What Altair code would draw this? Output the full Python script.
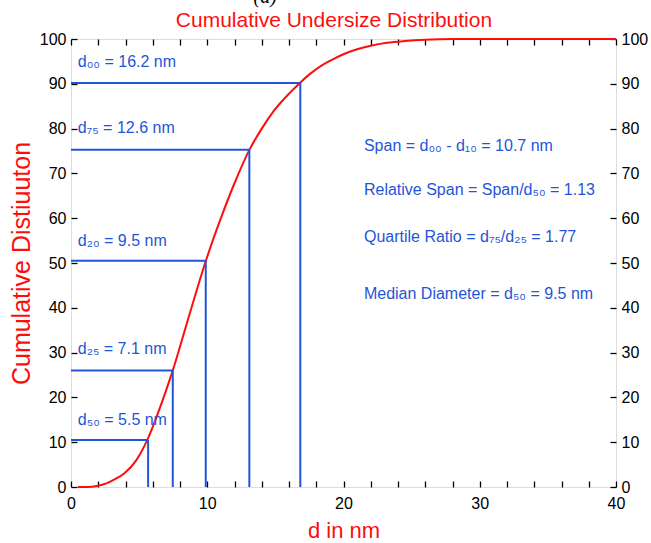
import altair as alt
import pandas as pd

# ---- data ----
curve_x = [0.5, 1.2, 2.0, 2.6, 3.2, 3.9, 4.8, 5.6, 6.2, 6.8, 7.5, 8.5, 9.9, 11.0,
           12.0, 13.1, 14.0, 14.9, 16.0, 16.8, 17.5, 18.3, 19.0, 20.0, 21.0, 22.0,
           23.2, 24.5, 26.0, 28.0, 40.0]
curve_y = [0.0, 0.0, 0.3, 0.8, 1.7, 3.0, 6.0, 10.5, 15.0, 20.0, 26.3, 36.5, 50.5, 60.0,
           67.8, 75.3, 80.0, 84.0, 87.8, 90.2, 92.1, 93.9, 95.1, 96.6, 97.7, 98.5,
           99.15, 99.55, 99.85, 100.0, 100.0]

quant_d = [5.66, 7.47, 9.89, 13.09, 16.83]
quant_p = [10.5, 26.0, 50.5, 75.3, 90.2]
quant_labels = ["d₅₀ = 5.5 nm", "d₂₅ = 7.1 nm", "d₂₀ = 9.5 nm", "d₇₅ = 12.6 nm", "d₀₀ = 16.2 nm"]
label_y = [14.9, 30.8, 54.9, 80.1, 94.9]
label_x = [0.5, 0.5, 0.5, 0.5, 0.5]

stats_text = ["Span = d₀₀ - d₁₀ = 10.7 nm",
              "Relative Span = Span/d₅₀ = 1.13",
              "Quartile Ratio = d₇₅/d₂₅ = 1.77",
              "Median Diameter = d₅₀ = 9.5 nm"]
stats_x = [21.5, 21.5, 21.5, 21.5]
stats_y = [76.1, 66.3, 55.8, 43.0]

title_text = ["Cumulative Undersize Distribution"]
title_x = [19.3]
title_y = [104.0]

panel_text = ["(a)"]
panel_x = [14.25]
panel_y = [108.0]

x_ticks = list(range(0, 41, 2))
y_ticks = list(range(0, 101, 10))

# ---- tables ----
curve_df = pd.DataFrame({"x": curve_x, "y": curve_y})
quant_df = pd.DataFrame({"d": quant_d, "p": quant_p, "zero": [0] * len(quant_d),
                         "label": quant_labels, "lx": label_x, "ly": label_y})
stats_df = pd.DataFrame({"text": stats_text, "x": stats_x, "y": stats_y})
title_df = pd.DataFrame({"t": title_text, "x": title_x, "y": title_y})
panel_df = pd.DataFrame({"t": panel_text, "x": panel_x, "y": panel_y})

FONT = "Liberation Sans"
RED = "#ff0d0d"
BLUE = "#1f55d6"

xs = alt.Scale(domain=[0, 40], nice=False, zero=False)
ys = alt.Scale(domain=[0, 100], nice=False, zero=False)

common = dict(domain=False, offset=-6, tickSize=6, tickColor="black", tickWidth=1.3,
              grid=False, labelFont=FONT, labelFontSize=16, labelColor="black",
              labelOverlap=False, labelFlush=False)

x_bottom = alt.Axis(orient="bottom", values=x_ticks,
                    labelExpr="datum.value % 10 == 0 ? datum.label : ''",
                    labelPadding=8, title="d in nm", titleColor=RED, titleFont=FONT,
                    titleFontSize=22, titleFontWeight="normal", titlePadding=9, **common)
y_left = alt.Axis(orient="left", values=y_ticks, labelPadding=5,
                  title="Cumulative Distiuuton", titleColor=RED, titleFont=FONT,
                  titleFontSize=25, titleFontWeight="normal", titlePadding=5, **common)
x_top = alt.Axis(orient="top", values=x_ticks, labels=False, title=None,
                 domain=False, offset=-6, tickSize=6, tickColor="black",
                 tickWidth=1.3, grid=False)
y_right = alt.Axis(orient="right", values=y_ticks, labelPadding=5, title=None, **common)

curve = alt.Chart(curve_df).mark_line(color=RED, strokeWidth=2, interpolate="monotone").encode(
    x=alt.X("x:Q", scale=xs, axis=x_bottom),
    y=alt.Y("y:Q", scale=ys, axis=y_left),
)

hrules = alt.Chart(quant_df).mark_rule(color=BLUE, strokeWidth=2).encode(
    x=alt.X("zero:Q", scale=xs, axis=x_top),
    x2="d:Q",
    y=alt.Y("p:Q", scale=ys, axis=y_right),
)

vrules = alt.Chart(quant_df).mark_rule(color=BLUE, strokeWidth=2).encode(
    x=alt.X("d:Q", scale=xs, axis=None),
    y=alt.Y("zero:Q", scale=ys, axis=None),
    y2="p:Q",
)

labels = alt.Chart(quant_df).mark_text(
    color=BLUE, font=FONT, fontSize=16, align="left", baseline="middle"
).encode(
    x=alt.X("lx:Q", scale=xs, axis=None),
    y=alt.Y("ly:Q", scale=ys, axis=None),
    text="label:N",
)

stats = alt.Chart(stats_df).mark_text(
    color=BLUE, font=FONT, fontSize=16, align="left", baseline="middle"
).encode(
    x=alt.X("x:Q", scale=xs, axis=None),
    y=alt.Y("y:Q", scale=ys, axis=None),
    text="text:N",
)

title = alt.Chart(title_df).mark_text(
    color=RED, font=FONT, fontSize=21, align="center", baseline="middle", clip=False
).encode(
    x=alt.X("x:Q", scale=xs, axis=None),
    y=alt.Y("y:Q", scale=ys, axis=None),
    text="t:N",
)

panel = alt.Chart(panel_df).mark_text(
    color="black", font="Liberation Serif", fontSize=20, fontStyle="italic",
    align="center", baseline="alphabetic", clip=False
).encode(
    x=alt.X("x:Q", scale=xs, axis=None),
    y=alt.Y("y:Q", scale=ys, axis=None),
    text="t:N",
)

chart = alt.layer(curve, hrules, vrules, labels, stats, title, panel).resolve_axis(
    x="independent", y="independent"
).properties(
    width=545,
    height=448,
    autosize=alt.AutoSizeParams(type="none"),
    padding={"left": 71, "top": 39, "right": 35, "bottom": 56},
).configure_view(stroke="black", strokeWidth=1.5).configure(background="white")

chart.save("out.html", embed_options={"renderer": "svg", "actions": False})
